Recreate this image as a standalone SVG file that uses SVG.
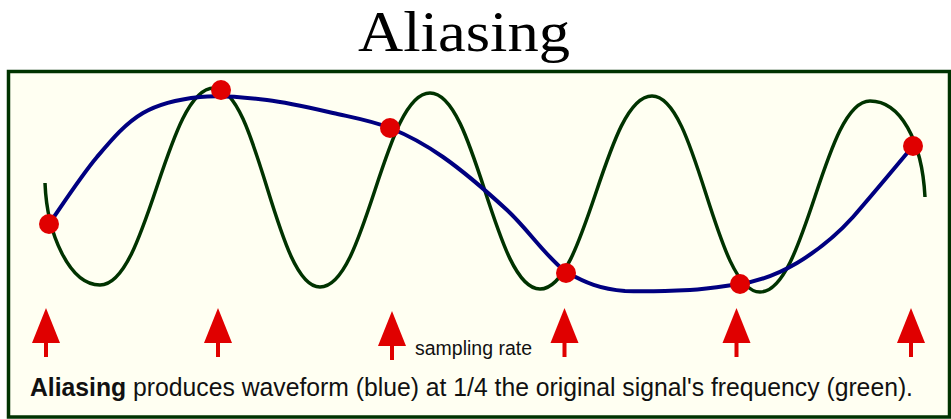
<svg xmlns="http://www.w3.org/2000/svg" width="951" height="419" viewBox="0 0 951 419">
  <defs>
    <style>
      .title { font-family: "Liberation Serif", "Times New Roman", serif; font-size: 57px; fill: #000; }
      .frame { fill: #FFFFF2; stroke: #003300; stroke-width: 3.5; }
      .green { fill: none; stroke: #003300; stroke-width: 3.5; stroke-linejoin: round; stroke-linecap: butt; }
      .blue { fill: none; stroke: #000080; stroke-width: 4; stroke-linejoin: round; stroke-linecap: round; }
      .dot { fill: #E00000; }
      .arrow { fill: #E00000; }
      .small { font-family: "Liberation Sans", Arial, sans-serif; font-size: 19.5px; fill: #111; }
      .caption { font-family: "Liberation Sans", Arial, sans-serif; font-size: 25px; fill: #111; }
    </style>
    <g id="arrowShape">
      <path d="M0,0 L14,35 L-14,35 Z"/>
      <rect x="-2" y="34" width="4" height="15"/>
    </g>
  </defs>

  <g id="title">
    <text class="title" x="464" y="51" text-anchor="middle" textLength="212" lengthAdjust="spacingAndGlyphs">Aliasing</text>
  </g>

  <g id="frame">
    <rect class="frame" x="8.5" y="71.5" width="941" height="345.5"/>
  </g>

  <g id="connectors">
    <path id="green-signal" class="green" d="M45,183 C47,235 70,285 100,285 C147.9,285 166.1,88 214,88 C258.5,88 275.5,287 320,287 C366.2,287 383.8,93 430,93 C476.2,93 493.8,289 540,289 C587,289 605,96 652,96 C697.4,96 714.6,292 760,292 C806.2,292 823.8,101 870,101 C900,101 922,140 925,197"/>
    <path id="blue-alias" class="blue" d="M49,224 C57,212.8 81.3,175.5 97,157 C112.7,138.5 125.8,123 143,113 C160.2,103 179.3,99.2 200,97 C220.7,94.8 244.8,97.3 267,100 C289.2,102.7 312.5,108.3 333,113 C353.5,117.7 371.7,120.7 390,128 C408.3,135.3 423.5,143.3 443,157 C462.5,170.7 486.5,191.2 507,210 C527.5,228.8 545.5,256.3 566,272 C586,283 600,289 625,291 C650,292 670,291 690,290 C707,289 725,286 740,284 C760,281 780,273 797,263 C817,251 835,237 853,217 C873,194 893,170 913,146"/>
  </g>

  <g id="samples">
    <circle class="dot" cx="49" cy="224" r="10"/>
    <circle class="dot" cx="221" cy="90" r="10"/>
    <circle class="dot" cx="390" cy="128" r="10"/>
    <circle class="dot" cx="566" cy="273" r="10"/>
    <circle class="dot" cx="740" cy="284" r="10"/>
    <circle class="dot" cx="913" cy="146" r="10"/>
  </g>

  <g id="arrows" class="arrow">
    <use href="#arrowShape" transform="translate(46,308)"/>
    <use href="#arrowShape" transform="translate(218,308)"/>
    <use href="#arrowShape" transform="translate(392,311)"/>
    <use href="#arrowShape" transform="translate(564.5,308)"/>
    <use href="#arrowShape" transform="translate(736.5,308)"/>
    <use href="#arrowShape" transform="translate(911,308)"/>
  </g>

  <g id="label-sampling">
    <text class="small" x="415" y="355" textLength="117" lengthAdjust="spacingAndGlyphs">sampling rate</text>
  </g>

  <g id="caption">
    <text class="caption" x="30" y="396" textLength="883" lengthAdjust="spacingAndGlyphs"><tspan font-weight="bold">Aliasing</tspan> produces waveform (blue) at 1/4 the original signal's frequency (green).</text>
  </g>
</svg>
